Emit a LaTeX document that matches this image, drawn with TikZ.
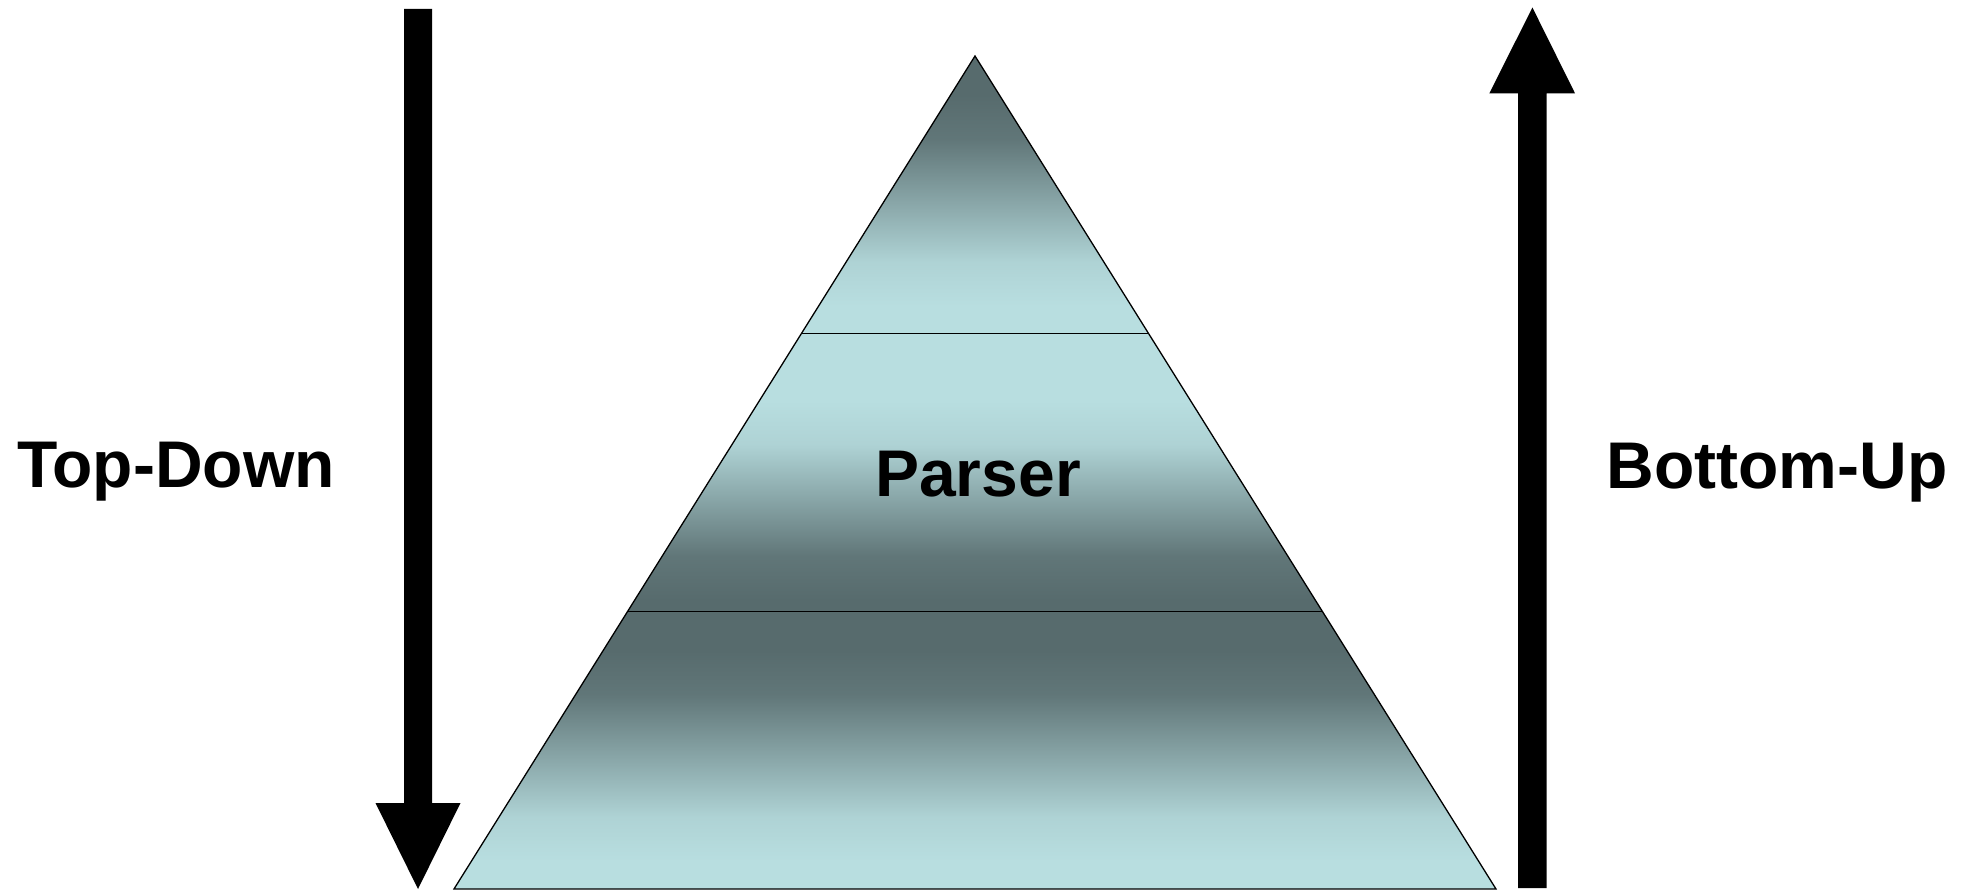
\documentclass[tikz,border=0pt]{standalone}
\usepackage{fontspec}
\setmainfont{Liberation Sans}
\definecolor{slate}{HTML}{576B6D}
\definecolor{ice}{HTML}{B8DEE0}
\colorlet{iceA}{ice!90!slate}
\colorlet{iceB}{ice!50!slate}
\colorlet{iceC}{ice!10!slate}
% vertical gradients for the pyramid bands (inner 25bp..75bp span the band)
\pgfdeclareverticalshading{darktop}{100bp}{color(0bp)=(ice); color(30bp)=(ice); color(38bp)=(iceA); color(49bp)=(iceB); color(60bp)=(iceC); color(68bp)=(slate); color(100bp)=(slate)}
\pgfdeclareverticalshading{lighttop}{100bp}{color(0bp)=(slate); color(27bp)=(slate); color(35bp)=(iceC); color(45bp)=(iceB); color(55bp)=(iceA); color(63bp)=(ice); color(100bp)=(ice)}
\tikzset{
  label text/.style={font=\bfseries\fontsize{66}{79}\selectfont, inner sep=0pt, anchor=base},
  edge line/.style={draw=black, line width=1.3pt, line join=miter},
  block arrow/.style={fill=black, draw=none}
}
\begin{document}
\begin{tikzpicture}[x=1pt,y=-1pt]
  \useasboundingbox (0,0) rectangle (1966,890);

  % pyramid corners and band boundaries
  \coordinate (apex) at (975,56);
  \coordinate (bl) at (454,889);
  \coordinate (br) at (1496,889);
  \coordinate (l1) at (801.3,333.7);
  \coordinate (r1) at (1148.7,333.7);
  \coordinate (l2) at (627.7,611.3);
  \coordinate (r2) at (1322.3,611.3);

  % shaded bands
  \shade[shading=darktop] (apex) -- (l1) -- (r1) -- cycle;
  \shade[shading=lighttop] (l1) -- (l2) -- (r2) -- (r1) -- cycle;
  \shade[shading=darktop] (l2) -- (bl) -- (br) -- (r2) -- cycle;

  % outline and dividers
  \draw[edge line] (apex) -- (bl) -- (br) -- cycle;
  \draw[edge line] (l1) -- (r1);
  \draw[edge line] (l2) -- (r2);

  % downward block arrow
  \fill[block arrow] (404,9) -- (432,9) -- (432,803) -- (460.5,803)
    -- (418,889) -- (375.5,803) -- (404,803) -- cycle;
  % upward block arrow
  \fill[block arrow] (1518.2,888) -- (1546.6,888) -- (1546.6,93.3) -- (1575,93.3)
    -- (1532.4,7.5) -- (1489.4,93.3) -- (1518.2,93.3) -- cycle;

  % labels
  \node[label text] (topdown) at (176,488) {Top-Down};
  \node[label text] (bottomup) at (1777,489) {Bottom-Up};
  \node[label text] (parser) at (978,496.5) {Parser};
\end{tikzpicture}
\end{document}
